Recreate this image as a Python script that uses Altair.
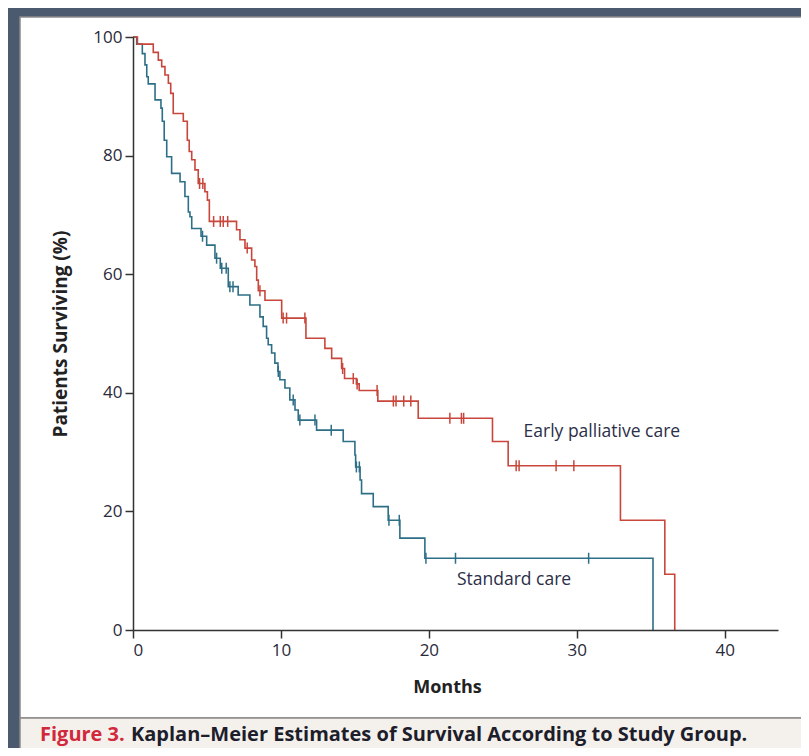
import altair as alt
import pandas as pd

# ---- data (months, % surviving) ----
early_t = [0, 0.3, 1.37, 1.71, 1.94, 2.16, 2.39, 2.55, 2.72, 3.40, 3.67, 3.80, 3.97, 4.19, 4.41,
           4.86, 5.03, 5.16, 7.0, 7.23, 7.57, 8.02, 8.24, 8.36, 8.47, 8.92, 10.05, 11.69, 12.97,
           13.43, 14.1, 14.3, 15.1, 15.29, 16.55, 19.28, 24.3, 25.36, 32.95, 35.95, 36.62]
early_s = [100, 98.8, 97.4, 96.1, 95.0, 93.6, 92.2, 90.5, 87.1, 85.8, 82.6, 80.7, 79.3, 77.6, 75.3,
           73.9, 72.5, 68.9, 67.5, 65.8, 64.4, 62.4, 61.3, 59.0, 57.2, 55.6, 52.6, 49.2, 47.5,
           45.8, 44.1, 42.4, 41.5, 40.4, 38.6, 35.7, 31.8, 27.7, 18.5, 9.4, 0]
early_censor = [4.5, 4.72, 5.45, 5.9, 6.1, 6.4, 7.72, 8.58, 10.15, 10.38, 11.62, 14.17, 14.89,
                15.15, 16.5, 17.6, 17.78, 18.3, 18.78, 21.42, 22.2, 22.35, 25.9, 26.1, 28.6, 29.8]

std_t = [0, 0.25, 0.63, 0.81, 0.93, 1.03, 1.49, 1.89, 1.98, 2.11, 2.28, 2.61, 3.18, 3.51, 3.74,
         3.85, 3.97, 4.6, 4.98, 5.54, 5.9, 6.44, 7.11, 7.9, 8.58, 8.8, 9.03, 9.14, 9.37, 9.59,
         9.8, 9.93, 10.27, 10.6, 10.95, 11.17, 12.41, 14.21, 15.0, 15.05, 15.35, 15.45, 16.24,
         17.25, 18.04, 19.73, 35.15]
std_s = [100, 98.8, 97.2, 95.3, 93.3, 92.1, 89.4, 88.0, 85.8, 82.6, 79.8, 77.0, 75.6, 73.1, 70.5,
         69.7, 67.7, 66.4, 64.9, 62.7, 61.0, 57.9, 56.5, 54.8, 52.8, 51.2, 49.2, 48.1, 46.7, 45.0,
         43.6, 42.2, 40.8, 38.8, 37.1, 35.4, 33.7, 31.8, 29.5, 27.5, 25.3, 23.0, 20.8,
         18.5, 15.5, 12.1, 0]
std_censor = [4.7, 5.65, 6.0, 6.3, 6.55, 6.76, 9.82, 10.83, 11.28, 12.3, 13.4, 15.1, 15.3,
              17.3, 18.0, 19.8, 21.8, 30.8]

x_ticks = [0, 10, 20, 30, 40]
y_ticks = [0, 20, 40, 60, 80, 100]

labels = ["Early palliative care", "Standard care"]
label_t = [26.4, 21.9]
label_s = [33.4, 8.4]

caption_a = "Figure 3."
caption_b = "Kaplan\u2013Meier Estimates of Survival According to Study Group."

RED = "#c8463b"
BLUE = "#2d6f86"
FONT = "Open Sans"


def step_value(ts, ss, t):
    v = ss[0]
    for ti, si in zip(ts, ss):
        if ti <= t:
            v = si
    return v


early_df = pd.DataFrame({"t": early_t, "s": early_s})
std_df = pd.DataFrame({"t": std_t, "s": std_s})
early_c = pd.DataFrame({"t": early_censor, "s": [step_value(early_t, early_s, c) for c in early_censor]})
std_c = pd.DataFrame({"t": std_censor, "s": [step_value(std_t, std_s, c) for c in std_censor]})
lab_df = pd.DataFrame({"t": label_t, "s": label_s, "label": labels})
one = pd.DataFrame({"a": [0]})

X = alt.X("t:Q", scale=alt.Scale(domain=[0, 43.6], nice=False, zero=False),
          axis=alt.Axis(values=x_ticks, title="Months", grid=False, zindex=1,
                        domainColor="#333", domainWidth=1.5, tickColor="#333", tickWidth=1.5,
                        tickSize=8, labelFont=FONT, labelFontSize=17, labelColor="#2a2a3a",
                        labelPadding=4, titleFont=FONT, titleFontSize=18, titleFontWeight="bold",
                        titleColor="#222", titlePadding=20, titleX=314))
Y = alt.Y("s:Q", scale=alt.Scale(domain=[0, 100], nice=False),
          axis=alt.Axis(values=y_ticks, title="Patients Surviving (%)", grid=False, zindex=1,
                        domainColor="#333", domainWidth=1.5, tickColor="#333", tickWidth=1.5,
                        tickSize=8, labelFont=FONT, labelFontSize=17, labelColor="#2a2a3a",
                        labelPadding=3, titleFont=FONT, titleFontSize=19, titleFontWeight="bold",
                        titleColor="#222", titlePadding=22))

panel = alt.Chart(one).mark_rect(fill="white", stroke="#8a8a8a", strokeWidth=1.5).encode(
    x=alt.value(-113), x2=alt.value(700), y=alt.value(-20), y2=alt.value(681))
capbox = alt.Chart(one).mark_rect(fill="#f4f1ec", stroke="#8a8a8a", strokeWidth=1.5).encode(
    x=alt.value(-113), x2=alt.value(700), y=alt.value(681), y2=alt.value(740))

early_line = alt.Chart(early_df).mark_line(interpolate="step-after", color=RED, strokeWidth=1.6).encode(x=X, y=Y)
std_line = alt.Chart(std_df).mark_line(interpolate="step-after", color=BLUE, strokeWidth=1.6).encode(x=X, y=Y)
early_ticks = alt.Chart(early_c).mark_tick(orient="vertical", size=11, thickness=1.5, color=RED, opacity=1).encode(x=X, y=Y)
std_ticks = alt.Chart(std_c).mark_tick(orient="vertical", size=11, thickness=1.5, color=BLUE, opacity=1).encode(x=X, y=Y)

lab = alt.Chart(lab_df).mark_text(align="left", baseline="middle", font=FONT, fontSize=17.5,
                                   color="#2b2f48").encode(x=X, y=Y, text="label:N")

cap1 = alt.Chart(one).mark_text(align="left", baseline="middle", font=FONT, fontSize=20,
                                fontWeight="bold", color="#d2283c").encode(
    x=alt.value(-93), y=alt.value(698), text=alt.value(caption_a))
cap2 = alt.Chart(one).mark_text(align="left", baseline="middle", font=FONT, fontSize=20,
                                fontWeight="bold", color="#1d1d2b").encode(
    x=alt.value(-2), y=alt.value(698), text=alt.value(caption_b))

chart = alt.layer(panel, capbox, std_line, early_line, std_ticks, early_ticks, lab, cap1, cap2).properties(
    width=645, height=593,
    autosize=alt.AutoSizeParams(type="none"),
    padding={"left": 125, "top": 29, "right": 23, "bottom": 118},
    background="#4b5a6e",
).configure_view(stroke=None)

chart.save("out.html", embed_options={"renderer": "svg", "actions": False})
